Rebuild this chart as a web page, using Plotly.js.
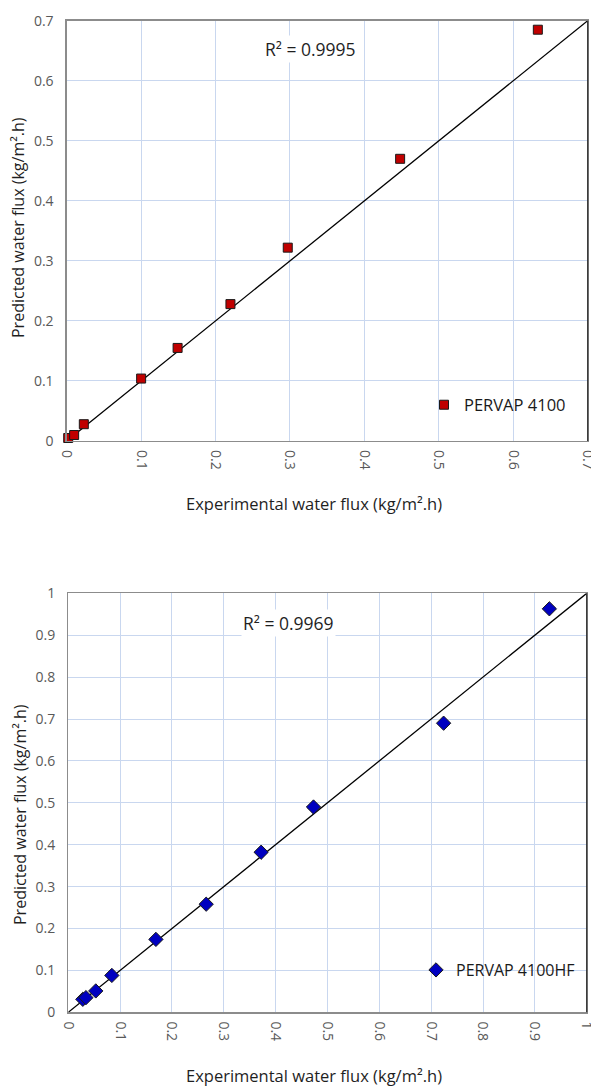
<!DOCTYPE html>
<html>
<head>
<meta charset="utf-8">
<script src="https://cdn.plot.ly/plotly-3.0.1.min.js"></script>
<style>html,body{margin:0;padding:0;background:#fff;}#chart{width:591px;height:1086px;}</style>
</head>
<body>
<div id="chart"></div>
<script>
// ---- data ----
const topName = "PERVAP 4100";
const topX = [0.002, 0.010, 0.023, 0.100, 0.149, 0.220, 0.297, 0.448, 0.633];
const topY = [0.005, 0.010, 0.028, 0.104, 0.155, 0.228, 0.322, 0.470, 0.685];
const topR2 = "0.9995";
const topParity = [0, 0.7];

const botName = "PERVAP 4100HF";
const botX = [0.028, 0.034, 0.053, 0.084, 0.169, 0.266, 0.372, 0.473, 0.724, 0.928];
const botY = [0.031, 0.035, 0.051, 0.088, 0.174, 0.258, 0.382, 0.490, 0.690, 0.963];
const botR2 = "0.9969";
const botParity = [0, 1];

const xTitle = "Experimental water flux (kg/m².h)";
const yTitle = "Predicted water flux (kg/m².h)";

// ---- styling ----
const FONT = "Open Sans, Liberation Sans, sans-serif";
const gridC = "#c9d7ef";
const axC = "#8c8c8c";

function axis(domain, range, anchor, isX) {
  return {
    domain: domain, range: range, anchor: anchor,
    dtick: 0.1, tick0: 0,
    showgrid: true, gridcolor: gridC, gridwidth: 1,
    zeroline: false,
    showline: true, linecolor: axC, linewidth: 1.3, mirror: true,
    ticks: "", ticklabelstandoff: isX ? 5 : 9,
    ticklabeloverflow: "allow",
    tickangle: isX ? 90 : 0,
    tickfont: {family: FONT, size: 14, color: "#595959"},
    fixedrange: true
  };
}

const traces = [
  {x: topParity, y: topParity, xaxis: "x", yaxis: "y", mode: "lines",
   line: {color: "#000", width: 1.3}, showlegend: false, hoverinfo: "skip"},
  {x: topX, y: topY, xaxis: "x", yaxis: "y", mode: "markers", name: topName,
   legend: "legend", cliponaxis: false,
   marker: {symbol: "square", size: 9, color: "#c00000", line: {color: "#1a1a1a", width: 1}}},
  {x: botParity, y: botParity, xaxis: "x2", yaxis: "y2", mode: "lines",
   line: {color: "#000", width: 1.3}, showlegend: false, hoverinfo: "skip"},
  {x: botX, y: botY, xaxis: "x2", yaxis: "y2", mode: "markers", name: botName,
   legend: "legend2", cliponaxis: false,
   marker: {symbol: "diamond", size: 11, color: "#0000c0", line: {color: "#1a1a1a", width: 1}}}
];

const W = 591, H = 1086;
const px = v => v / W, py = v => 1 - v / H;

function note(text, x, y, size, extra) {
  return Object.assign({text: text, xref: "paper", yref: "paper", x: px(x), y: py(y),
    xanchor: "center", yanchor: "middle", showarrow: false,
    font: {family: FONT, size: size, color: "#1f1f1f"}}, extra || {});
}

const layout = {
  width: W, height: H,
  margin: {l: 0, r: 0, t: 0, b: 0},
  paper_bgcolor: "#fff", plot_bgcolor: "#fff",
  font: {family: FONT, color: "#262626"},
  xaxis: axis([px(66.7), px(587.7)], [0, 0.70001], "y", true),
  yaxis: axis([py(441), py(20.7)], [0, 0.70001], "x", false),
  xaxis2: axis([px(68.3), px(586.7)], [0, 1.00001], "y2", true),
  yaxis2: axis([py(1012.3), py(593.3)], [0, 1.00001], "x2", false),
  legend: {x: px(424), y: py(405), xanchor: "left", yanchor: "middle",
           bgcolor: "rgba(0,0,0,0)", font: {family: FONT, size: 16.5, color: "#1a1a1a"},
           itemwidth: 30},
  legend2: {x: px(416), y: py(970), xanchor: "left", yanchor: "middle",
           bgcolor: "rgba(0,0,0,0)", font: {family: FONT, size: 16, color: "#1a1a1a"},
           itemwidth: 30},
  shapes: [
    {type: "line", xref: "x domain", yref: "y domain", x0: 1, x1: 1, y0: 0, y1: 1,
     line: {color: "#333", width: 1.3}},
    {type: "line", xref: "x2 domain", yref: "y2 domain", x0: 1, x1: 1, y0: 0, y1: 1,
     line: {color: "#333", width: 1.3}}
  ],
  annotations: [
    note("R² = " + topR2, 310, 49, 17.5, {bgcolor: "#fff"}),
    note("R² = " + botR2, 288, 623, 17.5, {bgcolor: "#fff"}),
    note(xTitle, 314, 504, 16.5),
    note(xTitle, 314, 1075, 16.5),
    note(yTitle, 18, 228, 16, {textangle: -90}),
    note(yTitle, 20, 815, 16, {textangle: -90})
  ]
};

Plotly.newPlot("chart", traces, layout, {displayModeBar: false, staticPlot: true});
</script>
</body>
</html>
